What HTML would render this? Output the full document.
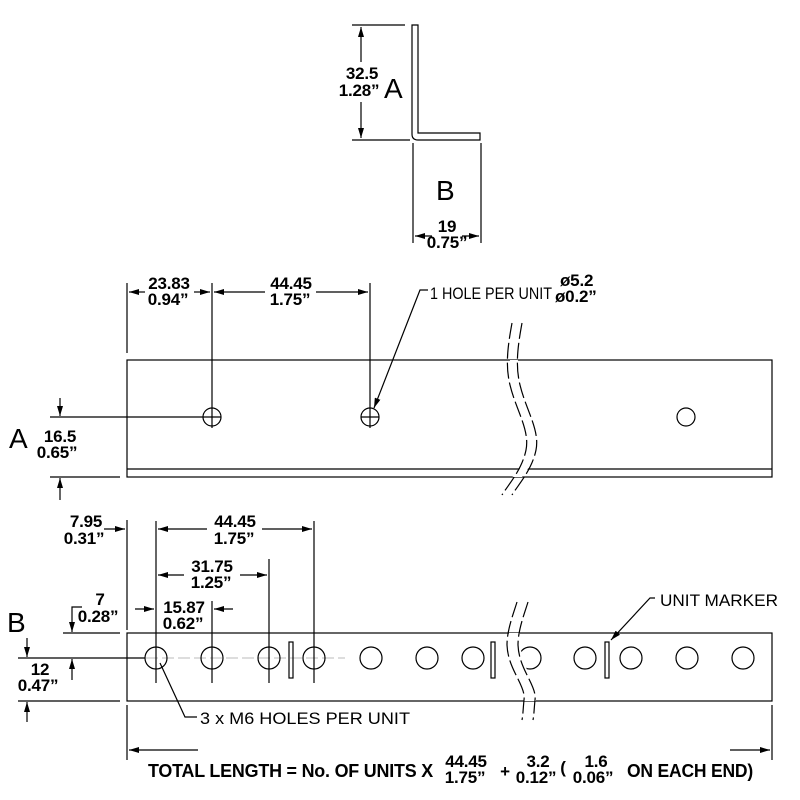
<!DOCTYPE html>
<html><head><meta charset="utf-8"><style>
html,body{margin:0;padding:0;background:#fff;width:800px;height:800px;overflow:hidden}
svg{display:block}
.d{font-family:"Liberation Sans",Arial,sans-serif;font-weight:bold;font-size:17px;fill:#000;text-anchor:middle;letter-spacing:-0.2px}
.n{font-family:"Liberation Sans",Arial,sans-serif;font-size:17px;fill:#000}
.L{font-family:"Liberation Sans",Arial,sans-serif;font-size:28px;fill:#000}
line,path,rect,circle{stroke:#000;stroke-width:1.2;fill:none}
.g{stroke:#bbb;stroke-width:1}
.gd{stroke:#bbb;stroke-width:1;stroke-dasharray:12 4}
.br{stroke:#000;stroke-width:1.2;stroke-dasharray:16 4;fill:none}
</style></head><body>
<svg width="800" height="800" viewBox="0 0 800 800" xmlns="http://www.w3.org/2000/svg">
<defs>
<marker id="a" viewBox="0 0 10 6" refX="10" refY="3" markerWidth="10" markerHeight="6" orient="auto-start-reverse" markerUnits="userSpaceOnUse"><path d="M0,0 L10,3 L0,6 z" style="fill:#000;stroke:none"/></marker>
</defs>

<!-- TOP L PROFILE -->
<path d="M412,25 L418,25 L418,133 L480,133 L480,140 L418,140 Q412,140 412,134 Z"/>
<line x1="352" y1="25" x2="405" y2="25"/>
<line x1="352" y1="140" x2="410" y2="140"/>
<line x1="361" y1="27" x2="361" y2="62" marker-start="url(#a)"/>
<line x1="361" y1="102" x2="361" y2="138" marker-end="url(#a)"/>
<text class="d" x="362" y="79">32.5</text>
<text class="d" x="359" y="96">1.28”</text>
<text class="L" x="384" y="98">A</text>
<line x1="413" y1="143" x2="413" y2="243"/>
<line x1="481" y1="143" x2="481" y2="243"/>
<line x1="415" y1="236" x2="432" y2="236" marker-start="url(#a)"/>
<line x1="462" y1="236" x2="479" y2="236" marker-end="url(#a)"/>
<text class="d" x="447" y="232">19</text>
<text class="d" x="447" y="248">0.75”</text>
<text class="L" x="436" y="200">B</text>

<!-- PANEL A -->
<rect x="127" y="360" width="645" height="117"/>
<line x1="127" y1="469" x2="772" y2="469"/>
<circle cx="212" cy="417" r="9"/>
<circle cx="370" cy="417" r="9"/>
<circle cx="686" cy="417" r="9"/>
<line x1="127" y1="283" x2="127" y2="353"/>
<line x1="212" y1="283" x2="212" y2="428"/>
<line x1="370" y1="283" x2="370" y2="428"/>
<line x1="203" y1="417" x2="221" y2="417"/>
<line x1="361" y1="417" x2="379" y2="417"/>
<line x1="129" y1="292" x2="145" y2="292" marker-start="url(#a)"/>
<line x1="194" y1="292" x2="210" y2="292" marker-end="url(#a)"/>
<line x1="214" y1="292" x2="265" y2="292" marker-start="url(#a)"/>
<line x1="316" y1="292" x2="368" y2="292" marker-end="url(#a)"/>
<text class="d" x="169" y="289">23.83</text>
<text class="d" x="168" y="305">0.94”</text>
<text class="d" x="291" y="289">44.45</text>
<text class="d" x="290" y="305">1.75”</text>
<path d="M428,290 L420,290 L374,408" marker-end="url(#a)"/>
<text class="n" x="430" y="299" textLength="122" lengthAdjust="spacingAndGlyphs">1 HOLE PER UNIT</text>
<text class="d" x="560" y="286" style="text-anchor:start">ø5.2</text>
<text class="d" x="555" y="302" style="text-anchor:start">ø0.2”</text>
<line x1="50" y1="417" x2="203" y2="417"/>
<line x1="50" y1="477" x2="120" y2="477"/>
<line x1="60" y1="398" x2="60" y2="416" marker-end="url(#a)"/>
<line x1="60" y1="500" x2="60" y2="478" marker-end="url(#a)"/>
<text class="L" x="9" y="448">A</text>
<text class="d" x="60" y="442">16.5</text>
<text class="d" x="57" y="458">0.65”</text>
<!-- break A -->
<path d="M510,360 C505,390 530,410 528,440 C526,465 515,477 512,477 L522,477 C526,470 538,460 538,440 C538,410 513,390 518,360 Z" style="fill:#fff;stroke:none"/>
<path class="br" d="M512,323 C508,345 505,365 510,385 C516,410 530,430 526,450 C522,470 508,485 502,495"/>
<path class="br" d="M522,323 C518,345 515,365 520,385 C526,410 540,430 536,450 C532,470 518,485 512,495"/>

<!-- PANEL B -->
<rect x="127" y="633" width="645" height="68"/>
<line class="gd" x1="130" y1="658" x2="345" y2="658"/>
<g class="g">
<line x1="156" y1="658" x2="156" y2="683"/><line x1="212" y1="658" x2="212" y2="683"/>
<line x1="269" y1="658" x2="269" y2="683"/><line x1="314" y1="658" x2="314" y2="683"/>
</g>
<circle cx="156" cy="658" r="11"/><circle cx="212" cy="658" r="11"/>
<circle cx="269" cy="658" r="11"/><circle cx="314" cy="658" r="11"/>
<circle cx="371" cy="658" r="11"/><circle cx="427" cy="658" r="11"/>
<circle cx="473" cy="658" r="11"/><circle cx="530" cy="658" r="11"/>
<circle cx="585" cy="658" r="11"/><circle cx="631" cy="658" r="11"/>
<circle cx="687" cy="658" r="11"/><circle cx="743" cy="658" r="11"/>
<rect x="289" y="642" width="4" height="36"/>
<rect x="491" y="642" width="4" height="36"/>
<rect x="605" y="642" width="4" height="36"/>
<!-- break B -->
<path d="M509,633 C505,655 522,680 524,701 L536,701 C534,680 517,655 520,633 Z" style="fill:#fff;stroke:none"/>
<path class="br" d="M517,602 C513,615 507,630 507,645 C508,670 526,685 524,700 C523,710 523,715 522,720"/>
<path class="br" d="M528,602 C524,615 518,630 518,645 C519,670 537,685 535,700 C534,710 534,715 533,720"/>

<line x1="127" y1="520" x2="127" y2="630"/>
<line x1="156" y1="521" x2="156" y2="658"/>
<line x1="212" y1="601" x2="212" y2="658"/>
<line x1="269" y1="559" x2="269" y2="658"/>
<line x1="314" y1="521" x2="314" y2="658"/>
<line x1="158" y1="529" x2="207" y2="529" marker-start="url(#a)"/>
<line x1="262" y1="529" x2="312" y2="529" marker-end="url(#a)"/>
<text class="d" x="235" y="527">44.45</text>
<text class="d" x="234" y="544">1.75”</text>
<line x1="158" y1="575" x2="184" y2="575" marker-start="url(#a)"/>
<line x1="240" y1="575" x2="267" y2="575" marker-end="url(#a)"/>
<text class="d" x="212" y="572">31.75</text>
<text class="d" x="211" y="588">1.25”</text>
<line x1="135" y1="609" x2="154" y2="609" marker-end="url(#a)"/>
<line x1="233" y1="609" x2="214" y2="609" marker-end="url(#a)"/>
<text class="d" x="184" y="613">15.87</text>
<text class="d" x="183" y="629">0.62”</text>
<line x1="104" y1="529" x2="125" y2="529" marker-end="url(#a)"/>
<text class="d" x="86" y="527">7.95</text>
<text class="d" x="84" y="544">0.31”</text>
<path d="M82,607 L72,607 L72,632" marker-end="url(#a)"/>
<text class="d" x="100" y="605">7</text>
<text class="d" x="98" y="622">0.28”</text>
<line x1="63" y1="633" x2="120" y2="633"/>
<line x1="18" y1="658" x2="145" y2="658"/>
<line x1="18" y1="701" x2="120" y2="701"/>
<line x1="27" y1="638" x2="27" y2="657" marker-end="url(#a)"/>
<line x1="72" y1="680" x2="72" y2="659" marker-end="url(#a)"/>
<line x1="27" y1="722" x2="27" y2="702" marker-end="url(#a)"/>
<text class="L" x="7" y="632">B</text>
<text class="d" x="40" y="675">12</text>
<text class="d" x="38" y="691">0.47”</text>
<path d="M160,663 L185,717 L197,717"/>
<text class="n" x="200" y="724" textLength="210" lengthAdjust="spacingAndGlyphs">3 x M6 HOLES PER UNIT</text>
<path d="M655,598 L650,598 L611,640" marker-end="url(#a)"/>
<text class="n" x="660" y="606" textLength="118" lengthAdjust="spacingAndGlyphs">UNIT MARKER</text>

<!-- TOTAL LENGTH -->
<line x1="127" y1="705" x2="127" y2="760"/>
<line x1="772" y1="705" x2="772" y2="760"/>
<line x1="198" y1="750" x2="129" y2="750" marker-end="url(#a)"/>
<line x1="730" y1="750" x2="770" y2="750" marker-end="url(#a)"/>
<text class="d" x="148" y="777" style="text-anchor:start;font-size:18px" textLength="285" lengthAdjust="spacingAndGlyphs">TOTAL LENGTH = No. OF UNITS X</text>
<text class="d" x="466" y="767">44.45</text>
<text class="d" x="465" y="783">1.75”</text>
<text class="d" x="505" y="777">+</text>
<text class="d" x="538" y="767">3.2</text>
<text class="d" x="536" y="783">0.12”</text>
<text class="d" x="563" y="773">(</text>
<text class="d" x="596" y="767">1.6</text>
<text class="d" x="593" y="783">0.06”</text>
<text class="d" x="627" y="777" style="text-anchor:start;font-size:18px" textLength="126" lengthAdjust="spacingAndGlyphs">ON EACH END)</text>
</svg>
</body></html>
